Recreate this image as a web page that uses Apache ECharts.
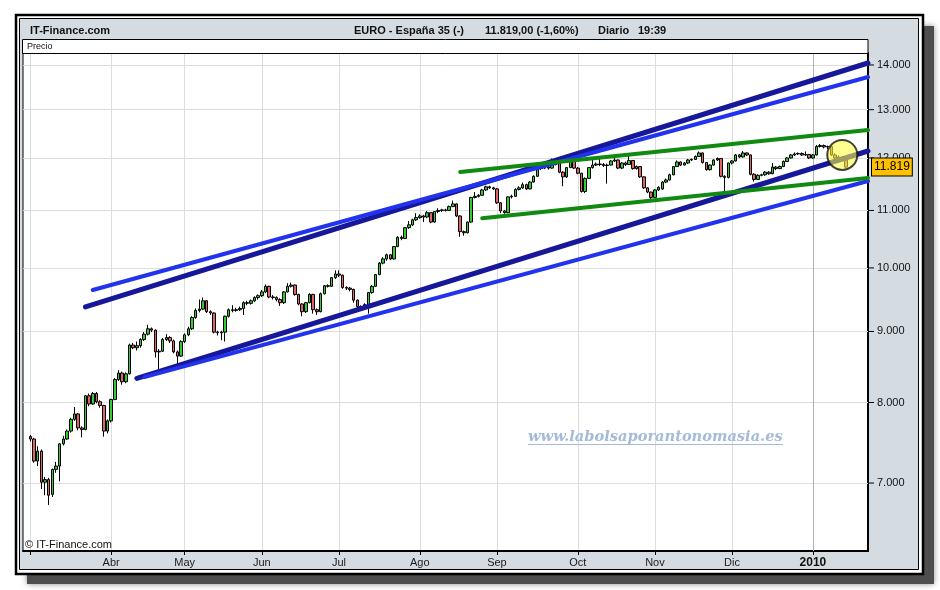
<!DOCTYPE html>
<html><head><meta charset="utf-8">
<script src="https://cdn.jsdelivr.net/npm/echarts/dist/echarts.min.js"></script>
<style>html,body{margin:0;padding:0;background:#fff;}#c{width:940px;height:590px;}</style>
</head><body><div id="c"></div>
<script>
// ---------- data ----------
const monthLabels = ['Mar','Abr','May','Jun','Jul','Ago','Sep','Oct','Nov','Dic','2010'];
const monthDays   = [22,20,21,21,22,21,22,21,21,22,10];
const leadEmpty = 2, tailEmpty = 6;
const priceTicks = [7000,8000,9000,10000,11000,12000,13000,14000];
const lastPrice = 11819;
// [open, close, low, high]
const candlesMar = [[7560,7530,7500,7580],[7530,7260,7240,7545],[7260,7380,7200,7440],[7380,7010,6930,7400],[7010,7040,6860,7070],[7040,6860,6750,7060],[6870,7160,6840,7170],[7160,7200,7120,7250],[7200,7470,7020,7480],[7470,7530,7450,7570],[7530,7630,7520,7650],[7630,7780,7610,7800],[7780,7850,7760,7940],[7850,7670,7640,7860],[7670,7650,7550,7690],[7650,8090,7640,8100],[8090,7980,7950,8120],[7980,8120,7970,8140],[8120,8010,7990,8140],[8010,7960,7930,8030],[7960,7630,7560,7970],[7630,7760,7600,7780]];
const candlesAbr = [[7760,8040,7740,8050],[8040,8310,8030,8330],[8310,8400,8290,8440],[8400,8280,8240,8420],[8280,8390,8260,8410],[8390,8800,8380,8820],[8800,8760,8740,8830],[8760,8790,8720,8850],[8790,8880,8760,8900],[8880,8960,8860,8990],[8960,9040,8940,9100],[9040,9020,8990,9060],[9020,8700,8620,9030],[8700,8710,8450,8740],[8710,8880,8700,8900],[8880,8910,8860,8960],[8910,8860,8830,8930],[8860,8700,8680,8880],[8700,8640,8520,8720],[8640,8850,8630,8870]];
const candlesMay = [[8850,8950,8830,8970],[8950,9040,8930,9070],[9040,9210,9020,9230],[9210,9320,9190,9350],[9320,9340,9290,9490],[9340,9470,9330,9520],[9470,9300,9280,9480],[9300,9280,9250,9320],[9280,8990,8970,9290],[8990,8980,8940,9010],[8980,8990,8870,9010],[8990,9230,8850,9240],[9230,9330,9210,9350],[9330,9320,9290,9400],[9320,9330,9300,9360],[9330,9350,9310,9380],[9350,9440,9250,9460],[9440,9430,9400,9470],[9430,9470,9410,9490],[9470,9520,9450,9540],[9520,9550,9490,9570]];
const candlesJun = [[9550,9610,9530,9640],[9610,9700,9590,9730],[9700,9530,9510,9710],[9530,9520,9490,9560],[9520,9490,9460,9540],[9490,9440,9390,9510],[9440,9610,9420,9620],[9610,9700,9600,9750],[9700,9720,9680,9760],[9720,9570,9550,9730],[9570,9420,9400,9580],[9420,9300,9230,9430],[9300,9440,9280,9450],[9440,9570,9430,9590],[9570,9330,9270,9580],[9330,9300,9250,9350],[9300,9580,9290,9600],[9580,9710,9570,9720],[9710,9700,9680,9730],[9700,9840,9690,9850],[9840,9900,9820,9960]];
const candlesJul = [[9900,9880,9850,9960],[9880,9680,9660,9890],[9680,9670,9640,9700],[9670,9650,9620,9690],[9650,9480,9440,9660],[9480,9380,9350,9490],[9380,9370,9330,9400],[9370,9410,9340,9430],[9400,9600,9270,9610],[9600,9700,9580,9720],[9700,9890,9690,9900],[9890,10080,9880,10100],[10080,10150,10060,10180],[10150,10220,10120,10240],[10220,10150,10130,10230],[10150,10360,10140,10370],[10360,10520,10350,10540],[10520,10500,10470,10550],[10500,10690,10490,10700],[10690,10740,10670,10810],[10740,10830,10720,10850],[10830,10870,10810,10950]];
const candlesAgo = [[10870,10900,10850,10930],[10900,10880,10790,10920],[10880,10960,10860,10990],[10960,10790,10770,10970],[10790,10980,10780,10990],[10980,11000,10950,11040],[11000,11010,10970,11030],[11010,11000,10980,11030],[11000,11070,10990,11090],[11070,11120,11060,11180],[11120,10900,10880,11130],[10900,10620,10530,10910],[10620,10600,10550,10640],[10600,10790,10590,10800],[10790,11240,10780,11250],[11240,11260,11220,11340],[11260,11280,11240,11300],[11280,11380,11270,11400],[11380,11440,11360,11460],[11440,11420,11400,11460],[11420,11400,11380,11440]];
const candlesSep = [[11400,11140,11120,11420],[11140,10990,10950,11150],[10990,10960,10940,11010],[10960,11250,10950,11260],[11250,11260,11220,11290],[11260,11390,11250,11410],[11390,11420,11370,11450],[11420,11480,11400,11520],[11480,11400,11380,11500],[11400,11530,11390,11550],[11530,11640,11520,11660],[11640,11790,11630,11820],[11790,11800,11760,11850],[11800,11820,11780,11860],[11820,11800,11770,11840],[11800,11870,11790,11990],[11870,11920,11850,11950],[11920,11720,11700,11930],[11720,11630,11450,11740],[11630,11810,11610,11820],[11810,11940,11800,11960],[11940,11800,11780,12000]];
const candlesOct = [[11800,11700,11680,11820],[11700,11350,11330,11710],[11350,11600,11320,11620],[11600,11810,11590,11820],[11810,11860,11790,12000],[11860,11880,11840,11910],[11880,11870,11840,12000],[11870,11850,11820,11900],[11850,11860,11500,11890],[11860,11940,11850,11960],[11940,11960,11920,12050],[11960,11800,11780,11970],[11800,11900,11780,11920],[11900,11870,11840,11930],[11870,11950,11860,12050],[11950,11790,11770,11960],[11790,11830,11770,11850],[11830,11630,11610,11840],[11630,11420,11400,11640],[11420,11340,11320,11430],[11340,11240,11200,11350]];
const candlesNov = [[11240,11380,11220,11400],[11380,11430,11360,11450],[11400,11530,11380,11550],[11530,11570,11510,11600],[11570,11670,11560,11690],[11670,11830,11660,11840],[11830,11920,11820,11950],[11920,11860,11840,11930],[11860,11900,11850,11920],[11900,11960,11880,11980],[11960,11970,11940,11990],[11970,12030,11960,12050],[12030,12100,12020,12130],[12100,11910,11890,12110],[11910,11770,11750,11920],[11770,11860,11750,11870],[11860,11960,11850,11970],[11960,11990,11940,12010],[11990,11640,11620,12000],[11640,11620,11340,11660],[11620,11900,11600,11910]];
const candlesDic = [[11900,11940,11870,11960],[11940,12060,11930,12080],[12060,12020,12000,12080],[12020,12100,12010,12140],[12100,12060,12040,12110],[12060,11680,11660,12070],[11680,11580,11540,11700],[11580,11660,11570,11680],[11660,11670,11640,11690],[11670,11720,11650,11740],[11720,11690,11670,11740],[11690,11820,11680,11900],[11820,11790,11760,11840],[11790,11830,11780,11850],[11830,11930,11820,11950],[11930,12000,11920,12020],[12000,12060,11990,12080],[12060,12080,12040,12110],[12080,12090,12060,12110],[12090,12060,12040,12110],[12060,12070,12040,12130],[12070,12000,11980,12080]];
const candlesEne = [[12000,12060,11990,12080],[12060,12230,12050,12260],[12230,12250,12210,12280],[12250,12220,12190,12270],[12220,12230,12180,12250],[12230,12060,12040,12240],[12060,12000,11970,12090],[12000,12020,11980,12050],[12020,11960,11930,12030],[11960,11819,11800,11980]];
// trend lines: [startIndex, startValue, endIndex, endValue]
const upperNavy  = [17, 9373, 230, 14046];
const upperBlue  = [19, 9640, 230, 13724];
const lowerNavy  = [31, 8327, 230, 12139];
const lowerBlue  = [33, 8343, 230, 11550];
const greenUpper = [119, 11723, 230, 12569];
const greenLower = [125, 10858, 230, 11608];
const circleMark = [223, 12060];

// ---------- build ----------
const categories = [];
const monthStart = {};
for (let i = 0; i < leadEmpty; i++) categories.push('pre' + i);
monthLabels.forEach((m, mi) => {
  for (let k = 0; k < monthDays[mi]; k++) {
    if (k === 0) monthStart[categories.length] = m;
    categories.push(m + '-' + (k + 1));
  }
});
for (let i = 0; i < tailEmpty; i++) categories.push('post' + i);

const allCandles = [].concat(candlesMar, candlesAbr, candlesMay, candlesJun, candlesJul,
  candlesAgo, candlesSep, candlesOct, candlesNov, candlesDic, candlesEne);
const candleData = [];
for (let i = 0; i < leadEmpty; i++) candleData.push('-');
allCandles.forEach(c => candleData.push(c));
for (let i = 0; i < tailEmpty; i++) candleData.push('-');

const fmt = v => String(v).replace(/\B(?=(\d{3})+(?!\d))/g, '.');
const isStart = i => Object.prototype.hasOwnProperty.call(monthStart, i);
const FONT = '"Liberation Sans", Arial, sans-serif';
const TFONT = 'bold 11px "Liberation Sans", Arial, sans-serif';

function trend(seg, color, width) {
  return {
    type: 'line', data: [[seg[0], seg[1]], [seg[2], seg[3]]],
    showSymbol: false, symbol: 'none', silent: true, z: 4,
    lineStyle: { color: color, width: width, cap: 'round' }
  };
}
function title(text, x) {
  return { type: 'text', z: 60, x: x, y: 31,
    style: { text: text, font: TFONT, fill: '#111', verticalAlign: 'middle' } };
}

const chart = echarts.init(document.getElementById('c'), null, { renderer: 'canvas' });
chart.setOption({
  animation: false,
  backgroundColor: '#ffffff',
  grid: { left: 23, top: 53, right: 72, bottom: 39, containLabel: false, outerBoundsMode: 'none',
          show: true, backgroundColor: '#ffffff', borderColor: '#000', borderWidth: 1 },
  xAxis: {
    type: 'category', data: categories, boundaryGap: false,
    axisLine: { show: true, onZero: false, lineStyle: { color: '#000', width: 2 } },
    axisTick: { show: true, interval: (i) => isStart(i), length: 4, lineStyle: { color: '#000' } },
    axisLabel: {
      interval: (i) => isStart(i) && monthStart[i] !== 'Mar',
      formatter: (v) => { const m = v.split('-')[0]; return m === '2010' ? '{b|2010}' : m; },
      color: '#1a1a1a', fontSize: 11, fontFamily: FONT, margin: 6,
      rich: { b: { fontWeight: 'bold', fontSize: 12, color: '#111', fontFamily: FONT } }
    },
    splitLine: { show: true, interval: (i) => isStart(i), lineStyle: { color: '#dddddd', width: 1 } }
  },
  yAxis: {
    type: 'log', logBase: 10, min: 6254, max: 14281, position: 'right', scale: true,
    axisLine: { show: true, lineStyle: { color: '#000', width: 2 } },
    axisTick: { show: false }, axisLabel: { show: false }, splitLine: { show: false }
  },
  series: [
    {
      type: 'candlestick', data: candleData, barWidth: 3, z: 2,
      itemStyle: { color: '#33cc33', color0: '#e06464', borderColor: '#000', borderColor0: '#000', borderWidth: 1 },
      markLine: {
        silent: true, symbol: ['none', 'none'], z: 1, animation: false,
        lineStyle: { color: '#dddddd', width: 1, type: 'solid' },
        label: {
          show: true, position: 'end', distance: 0,
          rich: {
            t: { width: 6, height: 1, backgroundColor: '#000', verticalAlign: 'middle' },
            v: { padding: [0, 0, 0, 3], fontSize: 11, color: '#111', fontFamily: FONT, verticalAlign: 'middle' }
          }
        },
        data: priceTicks.map(v => ({ yAxis: v, label: { formatter: '{t|}{v|' + fmt(v) + '}' } }))
          .concat([{ xAxis: 215, lineStyle: { color: '#b0b0b0' }, label: { show: false } }])
      }
    },
    trend(upperNavy, '#17179a', 5),
    trend(upperBlue, '#2233ee', 4),
    trend(lowerNavy, '#17179a', 5),
    trend(lowerBlue, '#2233ee', 4),
    trend(greenUpper, '#108a10', 4),
    trend(greenLower, '#108a10', 4),
    {
      type: 'scatter', data: [circleMark], symbolSize: 30, z: 6, silent: true,
      itemStyle: { color: 'rgba(255,255,60,0.72)', borderColor: '#111', borderWidth: 2 }
    },
    {
      type: 'line', data: [], silent: true, z: 20,
      markLine: {
        silent: true, symbol: ['none', 'none'], z: 20, animation: false,
        lineStyle: { color: 'rgba(0,0,0,0)', width: 1 },
        label: {
          show: true, position: 'end', distance: 4, formatter: fmt(lastPrice),
          backgroundColor: '#ffc000', borderColor: '#000', borderWidth: 1,
          padding: [3, 2, 2, 2], fontSize: 12, color: '#000', fontFamily: FONT
        },
        data: [{ yAxis: lastPrice }]
      }
    }
  ],
  graphic: [
    { type: 'rect', z: -30, shape: { x: 27, y: 26, width: 907, height: 558 },
      style: { fill: '#4e4e4e', shadowBlur: 6, shadowColor: 'rgba(0,0,0,0.45)' } },
    { type: 'rect', z: -20, shape: { x: 16, y: 15, width: 907, height: 559 },
      style: { fill: '#ffffff', stroke: '#000', lineWidth: 2.5 } },
    { type: 'rect', z: -10, shape: { x: 19.5, y: 18.5, width: 899, height: 551 },
      style: { fill: '#d5dce1', stroke: '#000', lineWidth: 1 } },
    { type: 'rect', z: 50, shape: { x: 22.5, y: 39.5, width: 845.5, height: 14 },
      style: { fill: '#ffffff', stroke: '#000', lineWidth: 1 } },
    { type: 'text', z: 60, x: 27, y: 46.5,
      style: { text: 'Precio', font: '9px ' + FONT, fill: '#111', verticalAlign: 'middle' } },
    title('IT-Finance.com', 30),
    title('EURO - España 35 (-)', 354),
    title('11.819,00 (-1,60%)', 485),
    title('Diario', 598),
    title('19:39', 638),
    { type: 'text', z: 60, x: 25, y: 545,
      style: { text: '© IT-Finance.com', font: '11px ' + FONT, fill: '#111', verticalAlign: 'middle' } },
    { type: 'text', z: 60, x: 528, y: 437,
      style: { text: 'www.labolsaporantonomasia.es', font: 'italic bold 14.6px "DejaVu Serif", "Liberation Serif", serif', fill: '#a3bbd8', verticalAlign: 'middle' } },
    { type: 'line', z: 60, shape: { x1: 528, y1: 444.5, x2: 783, y2: 444.5 },
      style: { stroke: '#a3bbd8', lineWidth: 1 } }
  ]
});
</script></body></html>
